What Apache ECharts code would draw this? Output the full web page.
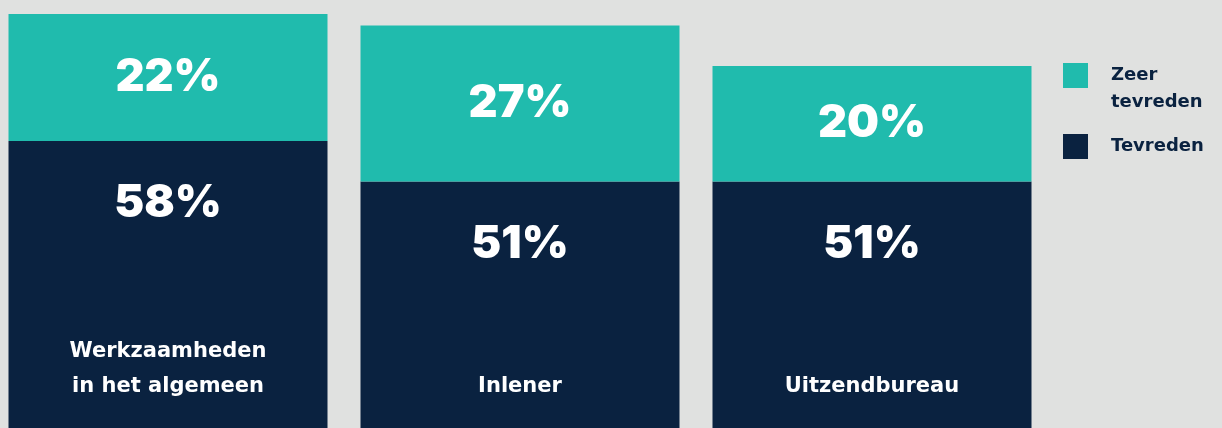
<!DOCTYPE html>
<html>
<head>
<meta charset="utf-8">
<script src="https://cdn.jsdelivr.net/npm/echarts@6/dist/echarts.min.js"></script>
<style>
  html, body { margin: 0; padding: 0; background: #e0e1e0; overflow: hidden; }
  #chart { width: 1222px; height: 476px; }
</style>
</head>
<body>
<div id="chart"></div>
<script>
// data
const categories = ['Werkzaamheden\nin het algemeen', 'Inlener', 'Uitzendbureau']
const tevreden = [58, 51, 51]
const zeerTevreden = [22, 27, 20]
const seriesNames = ['Tevreden', 'Zeer tevreden']

const NAVY = '#0a2240'
const TEAL = '#20bbad'
const FONT = 'Inter, Lato, sans-serif'
const WIDE = '"DejaVu Sans", sans-serif'

const chart = echarts.init(document.getElementById('chart'))
chart.setOption({
  backgroundColor: '#e0e1e0',
  animation: false,
  grid: { left: -8, width: 1056, top: 14, bottom: 0, outerBoundsMode: 'none', containLabel: false },
  legend: [
    {
      data: [seriesNames[1]],
      orient: 'vertical', left: 1063, top: 35, padding: 0, icon: 'rect',
      itemWidth: 25, itemHeight: 25,
      // leading empty line pushes the two-line label down next to the square
      formatter: () => '\nZeer\ntevreden',
      textStyle: { color: NAVY, fontFamily: WIDE, fontWeight: 'bold', fontSize: 18, lineHeight: 27, padding: [0, 0, 0, 18] }
    },
    {
      data: [seriesNames[0]],
      orient: 'vertical', left: 1063, top: 133, padding: 0, icon: 'rect',
      itemWidth: 25, itemHeight: 25,
      textStyle: { color: NAVY, fontFamily: WIDE, fontWeight: 'bold', fontSize: 18, lineHeight: 27, padding: [0, 0, 0, 18] }
    }
  ],
  xAxis: {
    type: 'category',
    data: categories,
    axisLine: { show: false },
    axisTick: { show: false },
    axisLabel: {
      inside: true, margin: 72, color: '#fff',
      fontFamily: WIDE, fontWeight: 'bold', fontSize: 21, lineHeight: 35
    },
    z: 10
  },
  yAxis: { type: 'value', min: 0, max: 80, show: false, splitLine: { show: false } },
  series: [
    {
      name: seriesNames[0], type: 'bar', stack: 'a', barWidth: 319,
      data: tevreden,
      itemStyle: { color: NAVY },
      label: {
        show: true, position: 'insideTop', distance: 40, formatter: '{c}%',
        color: '#fff', fontFamily: FONT, fontWeight: 900, fontSize: 45
      }
    },
    {
      name: seriesNames[1], type: 'bar', stack: 'a', barWidth: 319,
      data: zeerTevreden,
      itemStyle: { color: TEAL },
      label: {
        show: true, position: 'inside', formatter: '{c}%',
        color: '#fff', fontFamily: FONT, fontWeight: 900, fontSize: 45
      }
    }
  ]
})
</script>
</body>
</html>
